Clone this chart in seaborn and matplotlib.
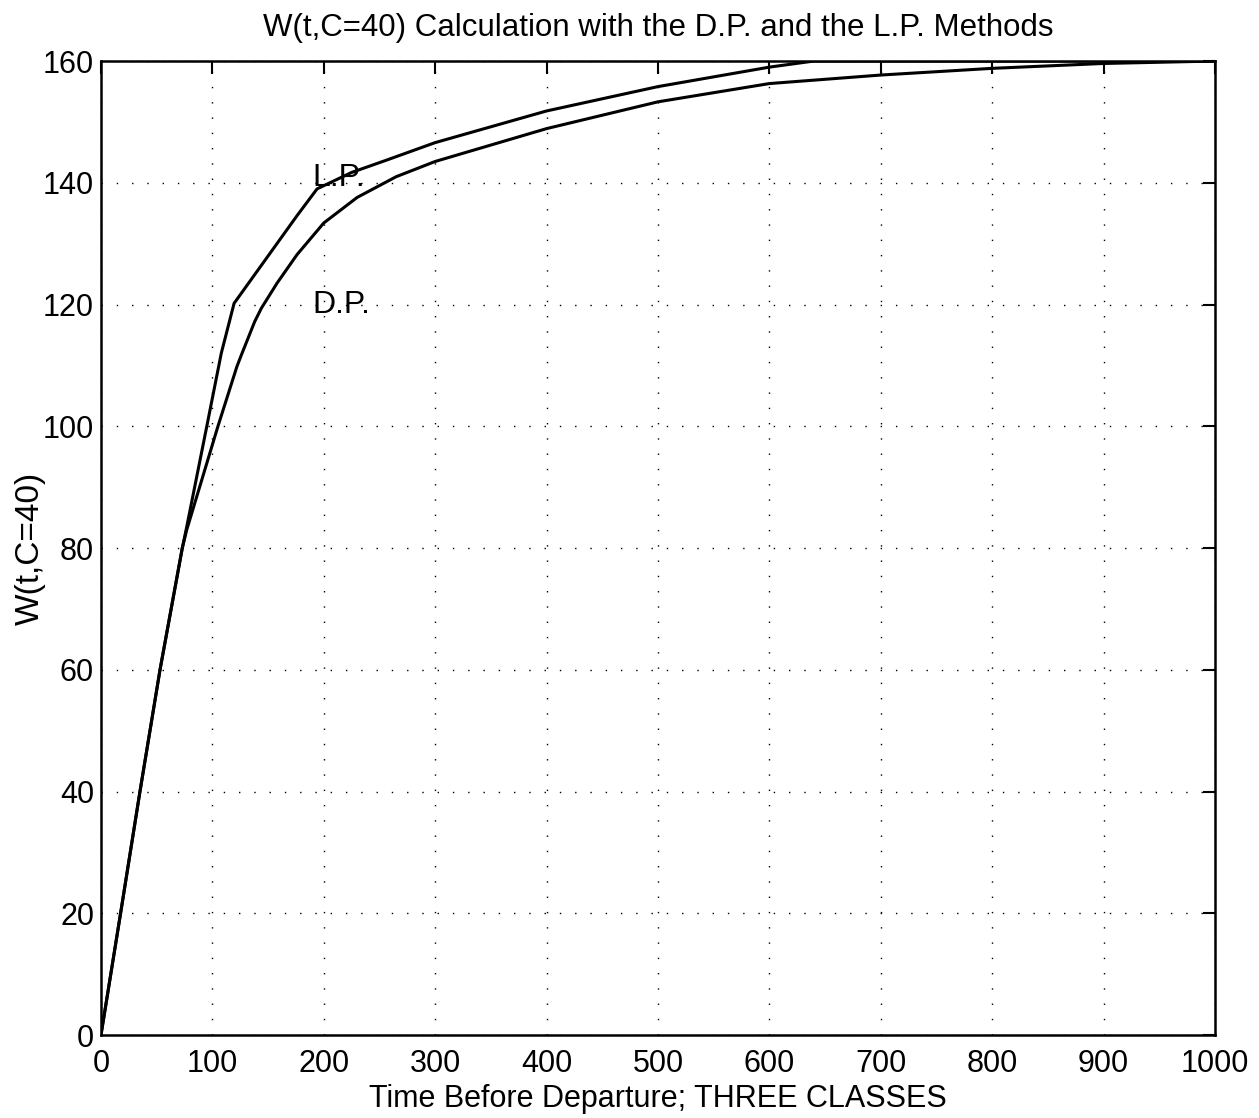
import matplotlib
matplotlib.use("Agg")
import matplotlib.pyplot as plt
import seaborn as sns
import pandas as pd

# Data
lp_t = [0, 17.6, 35, 53, 73, 77, 95, 108, 119.5, 176, 194, 225, 256, 300, 400, 500, 600, 640, 700, 800, 900, 1000]
lp_w = [0, 20, 40, 60, 80, 83.5, 100, 112, 120.2, 134.6, 139, 141.7, 143.7, 146.6, 151.8, 155.8, 159.0, 160, 160, 160, 160, 160]

dp_t = [0, 17.6, 35, 53, 73, 77, 105, 122, 126, 138, 144, 158, 176, 200, 230, 265, 300, 400, 500, 600, 700, 800, 900, 1000]
dp_w = [0, 20, 40, 60, 80, 83, 100, 109.8, 111.7, 117.2, 119.4, 123.5, 128.2, 133.4, 137.6, 141.0, 143.5, 148.9, 153.3, 156.3, 157.7, 158.8, 159.6, 160]

x_ticks = [0, 100, 200, 300, 400, 500, 600, 700, 800, 900, 1000]
y_ticks = [0, 20, 40, 60, 80, 100, 120, 140, 160]

title = "W(t,C=40) Calculation with the D.P. and the L.P. Methods"
xlabel = "Time Before Departure; THREE CLASSES"
ylabel = "W(t,C=40)"

lp_df = pd.DataFrame({"t": lp_t, "W": lp_w})
dp_df = pd.DataFrame({"t": dp_t, "W": dp_w})

sns.set_style("white")
plt.rcParams["font.family"] = ["Liberation Sans", "DejaVu Sans"]
plt.rcParams["text.color"] = "black"
plt.rcParams["axes.labelcolor"] = "black"
plt.rcParams["xtick.color"] = "black"
plt.rcParams["ytick.color"] = "black"

fig = plt.figure(figsize=(12.59, 11.18), dpi=100)
ax = fig.add_axes([0.0802, 0.0742, 0.8848, 0.8712])

sns.lineplot(data=lp_df, x="t", y="W", ax=ax, color="black", linewidth=2.2, estimator=None, sort=False)
sns.lineplot(data=dp_df, x="t", y="W", ax=ax, color="black", linewidth=2.2, estimator=None, sort=False)

ax.set_xlim(0, 1000)
ax.set_ylim(0, 160)
ax.set_xticks(x_ticks)
ax.set_yticks(y_ticks)
ax.grid(True, color="black", linestyle=(0, (1, 10)), linewidth=1.0)
ax.tick_params(direction="in", length=9, width=1.5, top=True, right=True,
               labelsize=22, colors="black")
ax.tick_params(axis="x", pad=10)
ax.tick_params(axis="y", pad=5)
for s in ax.spines.values():
    s.set_color("black")
    s.set_linewidth(1.8)

ax.set_title(title, fontsize=22.5, pad=18, color="black")
ax.set_xlabel(xlabel, fontsize=22, labelpad=4)
ax.set_ylabel(ylabel, fontsize=24, labelpad=-2)

ax.text(190, 140.8, "L.P.", fontsize=23, ha="left", va="center", color="black")
ax.text(190, 120, "D.P.", fontsize=23, ha="left", va="center", color="black")

fig.savefig("out.png", dpi=100)
